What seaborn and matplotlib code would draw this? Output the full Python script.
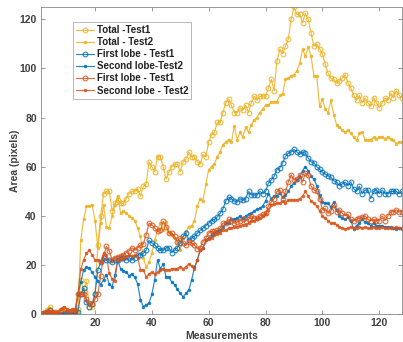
import numpy as np
import pandas as pd
import matplotlib
matplotlib.use("Agg")
import matplotlib.pyplot as plt
import seaborn as sns

measurements = list(range(1, 129))

total_test1 = [
    0, 0.5, 1.5, 3, 1, 0.5, 0, 0, 0.5, 1, 0.5, 0, 0.5, 2,
    14, 9.5, 13.6, 3, 3, 8, 28, 40, 49, 50, 50, 42, 45, 46.5, 45, 45,
    47, 49, 50, 50, 51, 48, 52, 53, 62, 60, 58, 64, 64, 60, 55, 58, 60, 61, 61, 58,
    62, 63, 66, 64, 64, 62, 61, 65, 64, 70, 73, 74, 78, 78, 82, 86, 87.5, 85, 82, 82,
    84, 83, 85, 82, 86, 88.7, 87, 88.7, 88.7, 88.7, 92, 95.5, 91, 103, 107.8, 106, 109, 112, 120, 125,
    122, 122, 118.6, 122.5, 120, 114.6, 109, 110, 108, 106, 101.6, 98, 96, 95.6, 94, 95, 96, 97.5, 94, 92,
    89, 87, 89, 86, 88, 86, 84.6, 88, 86, 84, 86, 88, 87, 90, 88, 91, 89, 88,
]

total_test2 = [
    0, 0, 0.5, 1, 0.5, 0, 0, 0.5, 0, 0, 0.5, 0, 0, 1,
    30, 38.6, 43.8, 44, 44.5, 38, 27, 37, 44.5, 35.6, 35, 40, 44.5, 48, 41, 42,
    41, 40, 39, 38, 35, 31.6, 23, 19, 21, 25, 30, 34, 37, 34, 37.5, 33, 32, 31, 29, 26,
    31, 33.6, 35.6, 36, 38, 44, 47, 46, 53, 58.8, 60, 61, 64, 66, 69, 70, 71, 70, 76.5, 71,
    74, 72, 76, 74, 77, 79, 80, 82, 83.5, 85, 85, 86.5, 86.5, 86.5, 89, 89.7, 95.5, 96, 97, 97.5,
    99, 102, 107.8, 105, 108.7, 105, 97, 97, 84.6, 87.5, 83.5, 82, 87, 81, 77, 76, 75, 74, 74.8, 73.5,
    72, 70.7, 73.5, 74, 71, 70.7, 71, 72, 71.4, 72, 72, 71.4, 72, 71.4, 70.7, 69.4, 70, 70,
]

first_lobe_test1_a = [
    0, 0.5, 1, 1.5, 0.5, 0, 0, 0, 0, 0.5, 0, 0, 0, 1,
    8, 10.5, 5, 3, 4, 8, 18, 21, 23, 22, 22, 21, 22, 22, 23, 23,
    22, 23, 22, 23, 24, 24, 24.7, 26, 30, 29, 28, 27, 26, 26, 27, 27, 25, 26, 27, 29,
    31.6, 33, 30, 31, 31.6, 33, 34, 35, 36, 37, 38, 38.5, 39.5, 41, 42.7, 46, 47.6, 47, 46, 45.6,
    47, 46.3, 47, 49.9, 48.5, 48.5, 48.5, 49.9, 49, 49.9, 53.3, 54.6, 56, 58.8, 59.5, 61.5, 64.2, 65.5, 66, 67,
    66, 65, 66, 65.5, 63.5, 62, 61.5, 60, 59, 57.7, 57, 56.3, 55.6, 54.3, 53.7, 52.3, 53, 53.7, 52.3, 53.7,
    51, 50, 52, 49, 50.5, 50.5, 47, 49.9, 50.5, 49, 50.5, 49, 49, 49.9, 49.9, 49.9, 49, 49.9,
]

second_lobe_test2_a = [
    0, 0, 0.5, 1, 0.5, 0, 0, 0, 0, 0, 0, 0, 0.5, 8,
    13, 18, 19, 18.8, 17, 15, 13.6, 12, 14, 16, 12.2, 11, 16, 22, 18.4, 17.7,
    17, 15.6, 16.3, 15, 12.2, 5.7, 3, 3.7, 4.5, 8, 14, 22, 18.4, 20.4, 15, 15, 13, 12, 10, 8.4,
    7, 8.4, 9.8, 13.9, 19, 22, 26, 27, 30, 31, 32, 33, 33.6, 34, 35.6, 37, 37, 38.5, 38.5, 39,
    39.9, 39, 40, 40.6, 41, 42, 42.6, 43, 44, 46, 49, 47, 48, 48, 49.2, 47.6, 48.4, 50, 52, 53.5,
    54.5, 55.6, 58.3, 60, 58.3, 56, 55, 52.3, 48.4, 45.6, 45.3, 45, 43.5, 45.6, 42.4, 40, 39, 38.5, 39.4, 38,
    34.7, 36, 37, 38.5, 37.5, 37, 36, 37, 36, 36, 36, 35.4, 35.4, 35.4, 35, 34.7, 35, 34.7,
]

first_lobe_test1_b = [
    0, 0.5, 1, 1.5, 0.5, 1, 0.5, 1.5, 2, 1, 0.5, 1, 1.5, 8,
    8, 8, 6, 4.4, 4, 6, 8, 15.6, 23.4, 27.5, 25.7, 22, 23, 23.4, 23.5, 24,
    25, 25.7, 27, 26, 27, 28, 28.6, 32.2, 37, 36.3, 35, 33.6, 34, 37.7, 35.6, 33, 33, 31.6, 29.5, 31,
    29, 28, 29.5, 29, 28, 26.6, 27, 29.5, 31, 33, 33.6, 33.6, 34, 35, 37, 37, 38.5, 38, 37, 37.5,
    38, 38.5, 38, 38.5, 40, 39, 39, 40, 40.6, 41, 44, 45.6, 47, 49.9, 50.5, 47, 49.9, 53.7, 56.7, 54.6,
    55, 56.7, 53.7, 57.4, 56.7, 52, 50.6, 49.9, 47, 42.4, 43, 41, 42, 44.3, 41.6, 42.4, 41, 40, 40.6, 38.5,
    38, 38.5, 39, 39.4, 40, 38.5, 38, 38.5, 38, 38, 40, 38, 40, 41.6, 41.6, 42.4, 41.6, 41.6,
]

second_lobe_test2_b = [
    0, 0, 0.5, 1, 0.5, 0.5, 1, 2, 3, 2, 1.6, 2, 1.5, 8.4,
    18.3, 22, 24.7, 26, 24, 22, 22, 21, 24.7, 24, 16.6, 14.4, 13.6, 22, 22.5, 23,
    23.4, 24, 23.5, 24, 23, 18, 18, 15, 16.3, 17, 16.3, 17, 18, 18.4, 18, 18, 18.4, 18.4, 18.5, 19.3,
    18.4, 19.3, 20.4, 19.5, 18.4, 22, 26, 27, 30, 30.6, 31, 32, 32.5, 33, 34, 34, 35, 35, 35.6, 35.6,
    36, 36.3, 36.3, 37, 37.7, 38, 38.5, 39, 40, 40.6, 42.4, 44.5, 44.8, 45.2, 45.2, 46, 45.2, 46.5, 46.5, 46.5,
    46.5, 47, 48, 49.9, 48, 46, 45, 44, 42, 40, 39, 38, 37, 37, 36.3, 35.4, 35, 34.7, 35, 35.5,
    35, 35, 35.5, 35, 35.5, 35, 35, 35.5, 35, 35, 35.5, 35, 35, 35, 35, 35.5, 35, 35,
]

labels = ["Total -Test1", "Total - Test2", "First lobe - Test1",
          "Second lobe-Test2", "First lobe - Test1", "Second lobe - Test2"]
x_ticks = [20, 40, 60, 80, 100, 120]
y_ticks = [0, 20, 40, 60, 80, 100, 120]

YELLOW = "#EDB120"
BLUE = "#0072BD"
ORANGE = "#D95319"

sns.set_theme(style="white")
plt.rcParams["font.family"] = ["Liberation Sans", "DejaVu Sans"]

fig = plt.figure(figsize=(4.03, 3.42), dpi=100)
ax = fig.add_axes([41 / 403, 28 / 342, 361 / 403, 307 / 342])

series = [
    (total_test1, YELLOW, "o", True),
    (total_test2, YELLOW, ".", False),
    (first_lobe_test1_a, BLUE, "o", True),
    (second_lobe_test2_a, BLUE, ".", False),
    (first_lobe_test1_b, ORANGE, "o", True),
    (second_lobe_test2_b, ORANGE, ".", False),
]

for (vals, col, mk, hollow), lab in zip(series, labels):
    df = pd.DataFrame({"m": measurements, "v": vals})
    kw = dict(marker=mk, color=col, linewidth=0.85, label=lab, alpha=0.85)
    if hollow:
        kw.update(markersize=3.4, markerfacecolor="none", markeredgecolor=col, markeredgewidth=0.8)
    else:
        kw.update(markersize=4.2, markerfacecolor=col, markeredgecolor=col, markeredgewidth=0.4)
    sns.lineplot(data=df, x="m", y="v", ax=ax, **kw)

ax.set_xlim(1, 128)
ax.set_ylim(0, 125)
ax.set_xticks(x_ticks)
ax.set_yticks(y_ticks)
txtcol = "#404040"
ax.tick_params(direction="in", length=3, width=0.6, colors="#888888",
               labelcolor=txtcol, labelsize=7.5, top=True, right=True,
               bottom=True, left=True, pad=3)
for lab in ax.get_xticklabels() + ax.get_yticklabels():
    lab.set_fontweight("bold")
for sp in ax.spines.values():
    sp.set_color("#888888")
    sp.set_linewidth(0.6)
ax.set_xlabel("Measurements", fontsize=7.5, fontweight="bold", color=txtcol, labelpad=2)
ax.set_ylabel("Area (pixels)", fontsize=7.5, fontweight="bold", color=txtcol, labelpad=0)

leg = ax.legend(loc="upper left", bbox_to_anchor=(32 / 361, 1 - 15 / 307),
                fontsize=7.0, frameon=True, fancybox=False, handlelength=1.9,
                handletextpad=0.25, labelspacing=0.22, borderpad=0.3,
                borderaxespad=0)
leg.get_frame().set_edgecolor("#999999")
leg.get_frame().set_linewidth(0.6)
for t in leg.get_texts():
    t.set_fontweight("bold")
    t.set_color("#222222")

fig.savefig("out.png", dpi=100)
